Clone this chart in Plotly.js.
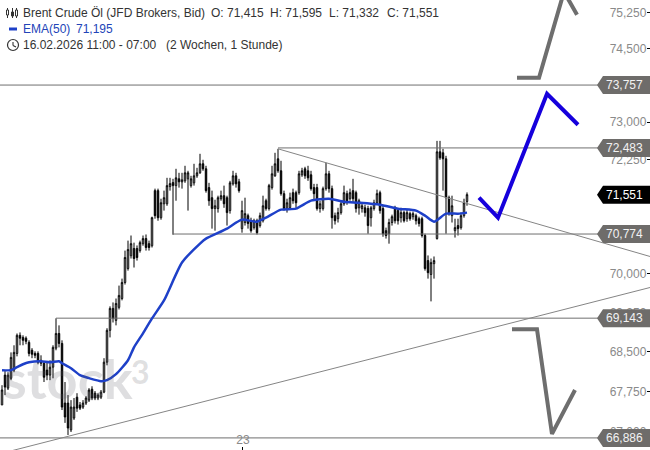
<!DOCTYPE html>
<html><head><meta charset="utf-8">
<script src="https://cdn.plot.ly/plotly-3.0.1.min.js"></script>
<style>html,body{margin:0;padding:0;background:#fff}#c{width:650px;height:450px}</style>
</head><body><div id="c"></div>
<script>
const open_=[67500,68060,67815,68000,68155,68470,68815,68775,68760,68680,68530,68470,68470,68340,68285,68155,68060,68210,68570,68850,68660,67535,67535,67035,67255,67645,67500,67460,67535,67590,67795,67720,67630,67645,67740,68305,68910,69330,69100,69350,69520,69830,70100,70350,70490,70490,70450,70585,70685,70585,70545,71630,71630,71095,71370,71370,71710,71790,71730,71865,71805,71825,71865,71730,71785,71925,71985,72165,72065,71690,71490,71275,71275,71470,71530,71490,71235,71765,71925,71805,70880,71000,71135,71035,70900,71035,70940,71035,71430,71275,71690,71925,72265,72025,71570,71275,71290,71590,71590,71590,71945,72065,72025,71945,71690,71690,71275,71275,71670,71965,71670,71135,71075,71195,71370,71570,71470,71630,71590,71290,71275,71290,71275,71095,71275,71390,71590,71275,70840,70780,71000,71290,71235,71095,71195,71075,71175,71115,71135,71075,71075,70745,70255,69985,70195,70685,72405,72385,72265,71490,71135,70840,70940,70900,71135,71415];
const high=[67870,68155,68115,68490,68625,68850,68870,68815,68795,68720,68570,68510,68510,68435,68320,68305,68340,68625,69140,69005,68720,67930,67685,67590,67630,67720,67555,67590,67665,67815,67850,67760,67720,67780,68380,68950,69370,69445,69520,69770,69905,70450,70645,70745,70605,70550,70645,70745,70765,70645,71115,71670,71670,71470,71630,71885,71885,71865,72065,71985,71985,72125,72025,71925,72165,72085,72365,72245,72125,71785,71630,71450,71530,71630,71730,71530,71825,72025,71985,71865,71430,71490,71175,71095,71075,71075,71195,71530,71470,71765,72125,72385,72465,72225,71630,71470,71590,71670,71630,72025,72085,72105,72125,72025,71765,71765,71430,71710,72185,72025,71730,71195,71290,71430,71730,71630,71670,71865,71630,71470,71370,71350,71330,71330,71450,71650,71630,71330,70900,71075,71155,71330,71275,71290,71235,71255,71215,71215,71175,71115,71115,70780,70355,70295,70335,72625,72625,72465,72325,71530,71530,71075,71075,71195,71470,71595];
const low=[67500,67685,67780,67965,68115,68415,68625,68625,68645,68415,68380,68380,68265,68230,67930,67965,67965,68000,68530,68585,67405,67165,66940,66995,67220,67370,67405,67425,67500,67555,67590,67590,67590,67610,67720,68245,68775,69060,69005,69310,69485,69790,70060,70295,70120,70255,70410,70545,70450,70450,70510,71075,71035,71055,71235,71330,71630,70760,71430,71690,71670,71785,71235,71690,71730,71885,71965,72025,71590,71330,70880,70840,71195,71430,71290,70940,71175,71730,71690,71590,70800,70940,70880,70800,70860,70765,70900,71000,71235,71235,71650,71905,71985,71530,71235,71195,71255,71370,71290,71550,71905,71865,71825,71630,71430,71235,71195,71235,71630,71590,70880,70960,71000,71155,71330,71350,71430,71390,71195,71155,71195,71115,70780,70920,71235,71350,71175,70720,70685,70585,70940,70980,70960,71000,71000,71015,71035,71055,70960,70920,70705,70060,69905,69465,69905,70665,72245,71630,70780,71135,71000,70705,70745,70860,71095,71332];
const close_=[67780,67835,68060,68395,68490,68815,68760,68720,68700,68470,68455,68435,68305,68285,68020,68060,68210,68585,68850,68660,67460,67275,67070,67460,67460,67440,67440,67535,67630,67780,67630,67630,67685,67740,68305,68910,69330,69140,69425,69580,69830,70315,70470,70585,70295,70315,70605,70685,70510,70510,71095,71135,71095,71390,71490,71730,71770,71730,71885,71805,71845,71985,71985,71865,71925,71985,72165,72065,71630,71430,71275,71330,71490,71530,71370,71195,71785,71925,71765,71630,71235,71175,70980,70840,71035,70800,71135,71330,71275,71730,71965,72165,72025,71570,71275,71390,71490,71430,71390,71965,72025,71925,71885,71670,71570,71275,71370,71670,71965,71670,71095,71035,71195,71370,71590,71430,71590,71470,71275,71430,71330,71195,70940,71290,71390,71570,71235,70780,70745,71000,71115,71035,71035,71195,71035,71195,71075,71175,71035,70980,70745,70100,70020,70215,70255,72405,72285,72265,71490,71175,71330,70900,70880,71135,71390,71551];

const emaIdx=[0,3,5,7,9,13,16,19,20,23,26,29,33,35,38,42,44,47,50,54,60,66,68,75,78,80,85,88,93,98,103,109,114,119,126,132,138,141,144,148,152,155];
const emaVal=[68153,68153,68209,68266,68303,68322,68303,68322,68285,68190,68059,68003,67946,67965,68078,68341,68587,68853,69138,69483,70217,70587,70684,70880,70998,71057,71017,71096,71254,71273,71431,71471,71411,71391,71352,71273,71234,71135,71017,71175,71175,71195];

const levelVals=[73757,72483,70774,69143,66886];
const levelFrom=[-0.67,92,57,18,-0.67];
const levelTags=['73,757','72,483','70,774','69,143','66,886'];
const lastVal=71551, lastTag='71,551';

const tickVals=[75250,74500,73000,72250,70000,69250,68500,67750,67000];
const tickText=['75,250','74,500','73,000','72,250','70,000','69,250','68,500','67,750','67,000'];

const trendAx=[92,216], trendAy=[72465,70335];
const trendBx=[3.33,216], trendBy=[66650,69733];
const arrowBlueX=[159,165.33,181.67,192], arrowBlueY=[71490,71095,73580,72950];
const arrowTopX=[171.67,179,187.33,191.67], arrowTopY=[73907,73907,75689,75208];
const arrowLowX=[170,178.33,183.33,191], arrowLowY=[68930,68930,66960,67780];

const FONT='"Liberation Sans", Arial, sans-serif';
const idx=open_.map((_,i)=>i);
const traces=[];
levelVals.forEach((v,k)=>traces.push({type:'scatter',mode:'lines',x:[levelFrom[k],216],y:[v,v],line:{color:'#6f6f6f',width:1},hoverinfo:'skip'}));
traces.push({type:'scatter',mode:'lines',x:trendAx,y:trendAy,line:{color:'#858585',width:1}});
traces.push({type:'scatter',mode:'lines',x:trendBx,y:trendBy,line:{color:'#858585',width:1}});
traces.push({type:'candlestick',x:idx,open:open_,high:high,low:low,close:close_,whiskerwidth:0,
  increasing:{line:{color:'#000',width:1},fillcolor:'#fff'},decreasing:{line:{color:'#000',width:1},fillcolor:'#000'}});
traces.push({type:'scatter',mode:'lines',x:emaIdx,y:emaVal,line:{color:'#1e40c8',width:2.5,shape:'spline',smoothing:0.6}});
traces.push({type:'scatter',mode:'lines',x:arrowBlueX,y:arrowBlueY,line:{color:'#1600dc',width:4}});
traces.push({type:'scatter',mode:'lines',x:arrowTopX,y:arrowTopY,line:{color:'#6e6e6e',width:4}});
traces.push({type:'scatter',mode:'lines',x:arrowLowX,y:arrowLowY,line:{color:'#6e6e6e',width:4}});

const tagPath='M -53 0 L -47 -9 L 0 -9 L 0 9 L -47 9 Z';
const shapes=[];
levelVals.forEach(v=>shapes.push({type:'path',layer:'above',xref:'x',yref:'y',xsizemode:'pixel',ysizemode:'pixel',xanchor:216,yanchor:v,path:tagPath,fillcolor:'#6e6c6a',line:{width:0}}));
shapes.push({type:'path',layer:'above',xref:'x',yref:'y',xsizemode:'pixel',ysizemode:'pixel',xanchor:216,yanchor:lastVal,path:tagPath,fillcolor:'#000',line:{width:0}});

const px=x=>x/650, py=y=>1-y/450;
function pshape(o){return Object.assign({xref:'paper',yref:'paper',layer:'above'},o);}
function seg(x0,y0,x1,y1,c,w){return pshape({type:'line',x0:px(x0),y0:py(y0),x1:px(x1),y1:py(y1),line:{color:c,width:w}});}
function box(x0,y0,x1,y1,f){return pshape({type:'rect',x0:px(x0),y0:py(y0),x1:px(x1),y1:py(y1),fillcolor:f,line:{color:'#333',width:1}});}
shapes.push(seg(7.5,8,7.5,18,'#333',1),box(6.5,10,8.5,15,'#fff'));
shapes.push(seg(12.5,8,12.5,18,'#333',1),box(11.5,12,13.5,16,'#333'));
shapes.push(seg(16.5,8,16.5,18,'#333',1),box(15.5,10,17.5,16,'#fff'));
shapes.push(seg(9,29,17,29,'#1e40c8',3));
shapes.push(pshape({type:'circle',x0:px(7.5),y0:py(39.5),x1:px(18.5),y1:py(50.5),line:{color:'#333',width:1.2},fillcolor:'rgba(0,0,0,0)'}));
shapes.push(seg(13,42,13,45.5,'#333',1.1),seg(13,45.5,16,47,'#333',1.1));

function txt(x,y,t,c,s,extra){return Object.assign({xref:'paper',yref:'paper',x:px(x),y:py(y),text:t,showarrow:false,xanchor:'left',yanchor:'middle',font:{family:FONT,size:s||12,color:c||'#333'},borderpad:0,borderwidth:0},extra||{});}
const wm='rgba(90,90,100,0.2)';
const ann=[
 txt(3,378,'stock',wm,54,{font:{family:'Lato',size:54,color:wm,weight:700}}),
 txt(131,371,'3',wm,32,{font:{family:'Lato',size:32,color:wm,weight:700}}),
 txt(23,13,'Brent Crude Öl (JFD Brokers, Bid)'),
 txt(211,13,'O: 71,415'),txt(270,13,'H: 71,595'),txt(329,13,'L: 71,332'),txt(387,13,'C: 71,551'),
 txt(23,29,'EMA(50)','#2244b8'),txt(76,29,'71,195','#2244b8'),
 txt(23,45,'16.02.2026 11:00 - 07:00'),txt(166,45,'(2 Wochen, 1 Stunde)')
];
levelVals.forEach((v,k)=>ann.push({xref:'paper',yref:'y',x:px(643.5),y:Math.log10(v),text:levelTags[k],showarrow:false,xanchor:'right',yanchor:'middle',font:{family:FONT,size:12,color:'#f2f2f2'},borderpad:0}));
ann.push({xref:'paper',yref:'y',x:px(643.5),y:Math.log10(lastVal),text:lastTag,showarrow:false,xanchor:'right',yanchor:'middle',font:{family:FONT,size:12,color:'#fff'},borderpad:0});

const layout={width:650,height:450,margin:{l:0,r:0,t:0,b:0,pad:0},showlegend:false,paper_bgcolor:'#fff',plot_bgcolor:'#fff',
 xaxis:{type:'linear',range:[-0.667,216],rangeslider:{visible:false},showgrid:false,zeroline:false,showline:false,
  tickmode:'array',tickvals:[80.33],ticktext:['23'],ticks:'inside',ticklen:3,tickwidth:1,tickcolor:'#000',ticklabelposition:'inside',
  tickfont:{family:FONT,size:12,color:'#8a8a8a'}},
 yaxis:{type:'log',side:'right',range:[4.82388,4.87804],autorange:false,showgrid:false,zeroline:false,showline:false,
  tickmode:'array',tickvals:tickVals,ticktext:tickText,ticks:'inside',ticklen:3,tickwidth:1,tickcolor:'#000',ticklabelposition:'inside',
  tickfont:{family:FONT,size:12,color:'#8a8a8a'}},
 shapes:shapes,annotations:ann};
Plotly.newPlot('c',traces,layout,{staticPlot:true,displayModeBar:false});
</script></body></html>
